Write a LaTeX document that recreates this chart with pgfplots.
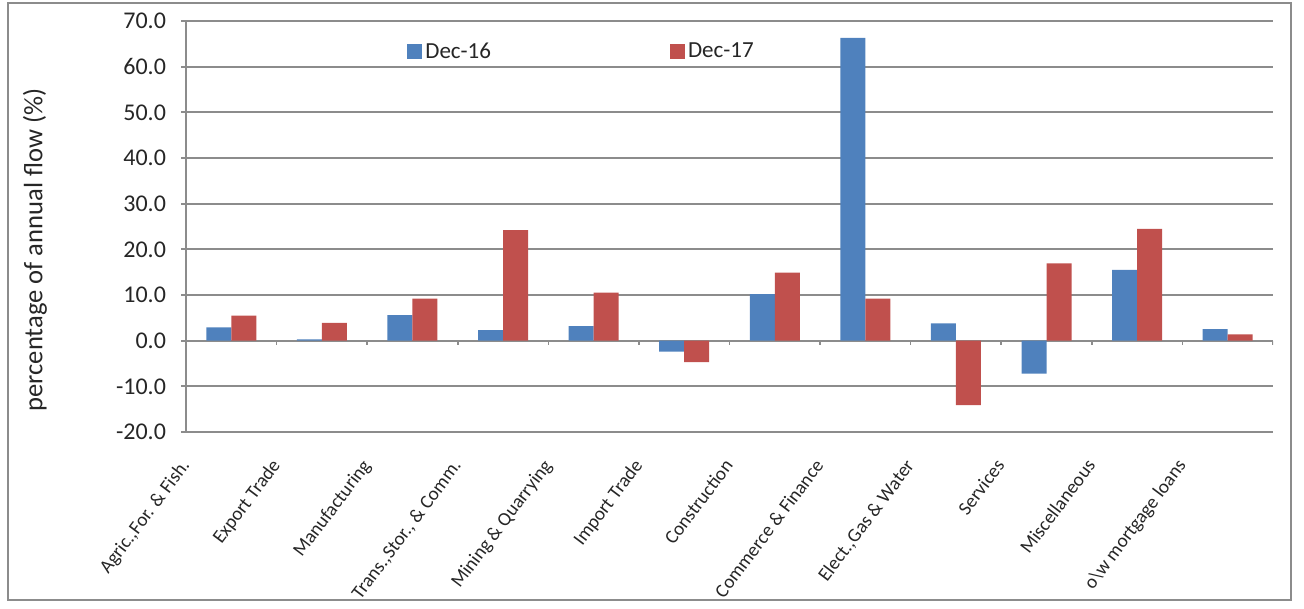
\documentclass[border=0pt]{standalone}
\usepackage{fontspec}
\setmainfont{Carlito}
\usepackage{pgfplots}
\pgfplotsset{compat=1.18}

\definecolor{barblue}{RGB}{79,129,189}
\definecolor{barred}{RGB}{192,80,77}
\definecolor{gridgray}{RGB}{140,140,140}
\definecolor{labelgray}{RGB}{38,38,38}

% Share of annual credit flow by sector (%)
\pgfplotstableread{
idx decA decB
0   2.9   5.5
1   0.3   3.9
2   5.6   9.2
3   2.3   24.2
4   3.2   10.5
5   -2.4  -4.7
6   10.2  14.9
7   66.3  9.2
8   3.8   -14.1
9   -7.2  16.9
10  15.5  24.5
11  2.5   1.4
}\flowdata

\begin{document}
\begin{tikzpicture}
\useasboundingbox (0,0) rectangle (652pt,304.5pt);
\draw[gridgray, line width=1pt] (4pt,4.5pt) rectangle (645.5pt,303pt);

\begin{axis}[
  at={(93pt,88.5pt)}, anchor=south west,
  scale only axis, width=543.5pt, height=205.5pt,
  ybar=0pt, bar width=12.5pt,
  xmin=-0.5, xmax=11.5, ymin=-20, ymax=70,
  xtick={0,...,11},
  xticklabels={{Agric.,For. \& Fish.},{Export Trade},{Manufacturing},{Trans.,Stor., \& Comm.},{Mining \& Quarrying},{Import Trade},{Construction},{Commerce \& Finance},{Elect.,Gas \& Water},{Services},{Miscellaneous},{o\textbackslash w mortgage loans}},
  ytick={-20,-10,...,70},
  axis x line*=bottom, axis y line*=left,
  x axis line style={draw=none},
  y axis line style={draw=gridgray, line width=0.9pt},
  ymajorgrids, grid style={gridgray, line width=0.9pt},
  tick align=outside,
  xtick style={draw=none},
  ytick style={draw=gridgray, line width=0.9pt},
  major tick length=2.5pt,
  yticklabel style={font=\fontsize{12}{14}\selectfont, text=labelgray, xshift=-4pt},
  xticklabel style={font=\fontsize{9.6}{11}\selectfont, text=labelgray, xshift=-26.5pt, yshift=-5.5pt, rotate=53, anchor=north east},
  /pgf/number format/.cd, fixed, fixed zerofill, precision=1, assume math mode=true,
  /pgfplots/.cd,
  ylabel={percentage of annual flow (\%)},
  ylabel style={font=\fontsize{13.3}{15}\selectfont, text=labelgray, at={(axis description cs:-0.139,0.443)}, anchor=center},
  legend style={at={(0.2033,0.9246)}, anchor=west, draw=none, fill=none,
    font=\fontsize{11.5}{13}\selectfont, text=labelgray,
    legend columns=2, inner sep=0pt,
    nodes={inner sep=1.5pt},
    /tikz/every even column/.append style={column sep=88pt}},
  legend image code/.code={\fill[#1] (0pt,-3.75pt) rectangle (7.5pt,3.75pt);},
]
\addplot[fill=barblue, draw=none] table[x=idx, y=decA] {\flowdata};
\addplot[fill=barred, draw=none] table[x=idx, y=decB] {\flowdata};
\legend{Dec-16, Dec-17}
\pgfplotsinvokeforeach{0.5,1.5,2.5,3.5,4.5,5.5,6.5,7.5,8.5,9.5,10.5,11.5}{
  \draw[gridgray, line width=0.8pt] (axis cs:#1,0) -- ++(0pt,-2pt);
}
\end{axis}
\end{tikzpicture}
\end{document}
